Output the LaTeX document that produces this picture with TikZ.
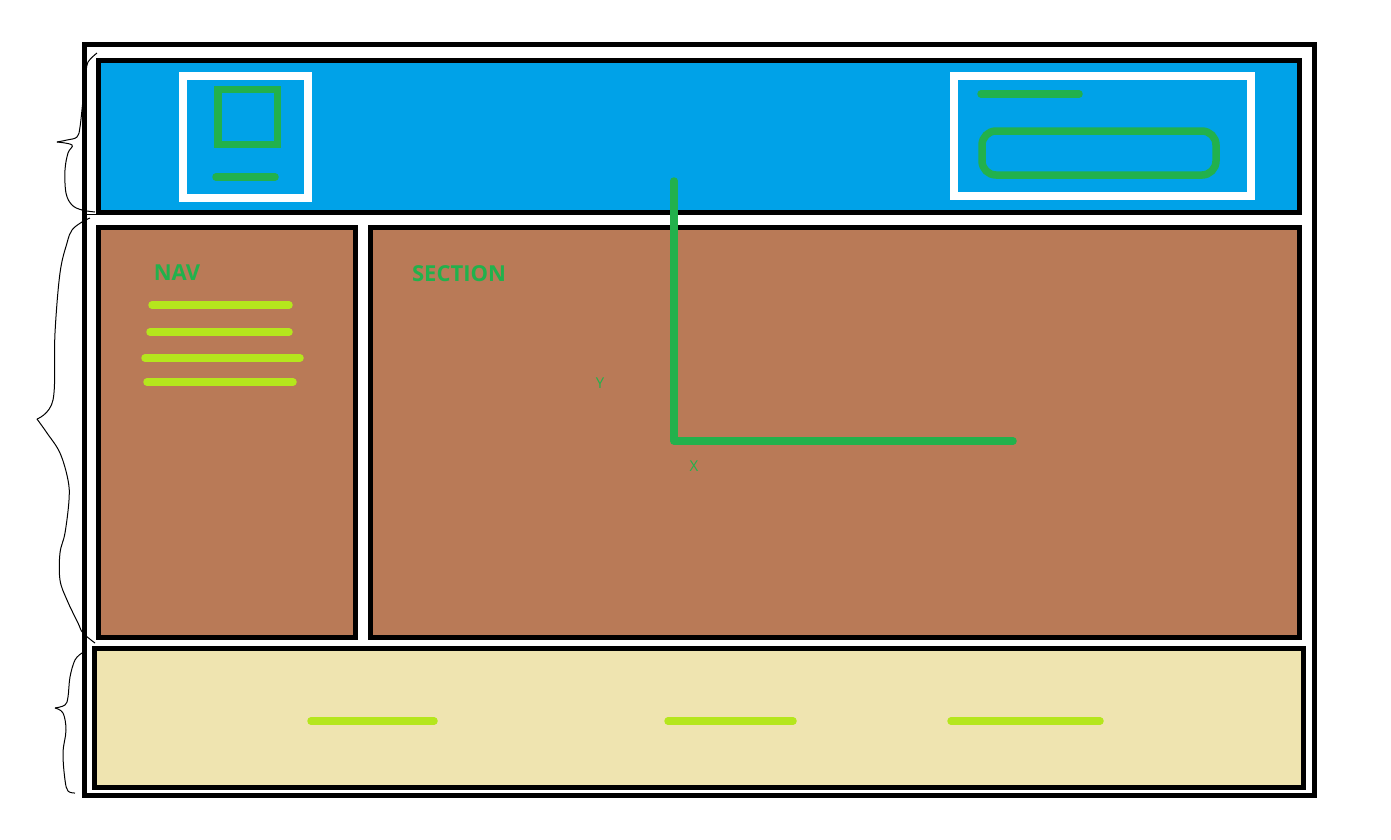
\documentclass[tikz,border=0pt]{standalone}
\usepackage{fontspec}
\newfontfamily\paintfont{Open Sans}
\usepackage{tikz}
\usetikzlibrary{positioning}

\definecolor{paintblue}{HTML}{00A2E8}
\definecolor{paintbrown}{HTML}{B97A57}
\definecolor{paintbeige}{HTML}{EFE4B0}
\definecolor{paintgreen}{HTML}{22B14C}
\definecolor{paintlime}{HTML}{B5E61D}

\begin{document}
\begin{tikzpicture}[x=1pt,y=-1pt,
  panel/.style={draw=black,line width=5pt},
  whitebox/.style={draw=white,line width=7.5pt},
  greenpen/.style={draw=paintgreen,line width=7.5pt,line cap=round},
  limepen/.style={draw=paintlime,line width=7.5pt,line cap=round},
  brace/.style={draw=black,line width=1pt},
  big label/.style={text=paintgreen,font=\paintfont\bfseries\fontsize{22}{26}\selectfont},
  axis label/.style={text=paintgreen,font=\paintfont\fontsize{15}{18}\selectfont}]

  \useasboundingbox[fill=white] (0,0) rectangle (1391,839);

  \draw[panel] (84.5,44.5) rectangle (1314.5,795.5);

  % header
  \draw[panel,fill=paintblue] (98,60.5) rectangle (1299.5,212.5);
  \draw[whitebox] (183,76) rectangle (308,198);
  \draw[greenpen,line cap=butt] (218,89.5) rectangle (277.5,144.5);
  \draw[greenpen] (216,177) -- (275,177);
  \draw[whitebox] (954,76) rectangle (1251,196);
  \draw[greenpen] (981,94) -- (1079,94);
  \draw[greenpen,rounded corners=14pt] (982,131) rectangle (1216,175);

  % nav and section
  \draw[panel,fill=paintbrown] (98,227.5) rectangle (355,637);
  \draw[panel,fill=paintbrown] (370.5,227.5) rectangle (1299.5,637);
  \node[big label] (nav) at (177,273) {NAV};
  \node[big label] (section) at (459,274) {SECTION};
  \draw[limepen] (152,305) -- (289,305);
  \draw[limepen] (150,332) -- (289,332);
  \draw[limepen] (145,358) -- (300,358);
  \draw[limepen] (147,382) -- (293,382);

  \draw[greenpen,line cap=round,line join=round] (674,181) -- (674,441) -- (1013,441);
  \node[axis label] (ylabel) at (600,383) {Y};
  \node[axis label] (xlabel) at (694,466) {X};

  % footer
  \draw[panel,fill=paintbeige] (94.5,648.5) rectangle (1303,787.5);
  \draw[limepen] (311,721) -- (434,721);
  \draw[limepen] (668,721) -- (793,721);
  \draw[limepen] (951,721) -- (1100,721);

  % hand drawn braces
  \draw[brace] plot[smooth,tension=0.6] coordinates {(97,53) (88,62) (86,73) (83,100) (80,127) (77,137) (67,140) (57,142)};
  \draw[brace] plot[smooth,tension=0.6] coordinates {(57,142) (72,145) (68,153) (65,170) (66,193) (72,205) (82,210) (95,212)};
  \draw[brace] (86,214) -- (96,214);
  \draw[brace] plot[smooth,tension=0.6] coordinates {(90,218) (82,222) (72,230) (67,243) (60,273) (55,333) (53,400) (37,419)};
  \draw[brace] plot[smooth,tension=0.6] coordinates {(37,419) (47,433) (60,453) (68,480) (69,500) (65,533) (60,553) (60,580) (67,600) (78,623) (83,633) (95,643)};
  \draw[brace] plot[smooth,tension=0.6] coordinates {(82,653) (75,660) (70,677) (68,697) (65,705) (55,708)};
  \draw[brace] plot[smooth,tension=0.6] coordinates {(55,708) (63,713) (66,730) (63,753) (65,780) (68,791) (75,793)};
\end{tikzpicture}
\end{document}
